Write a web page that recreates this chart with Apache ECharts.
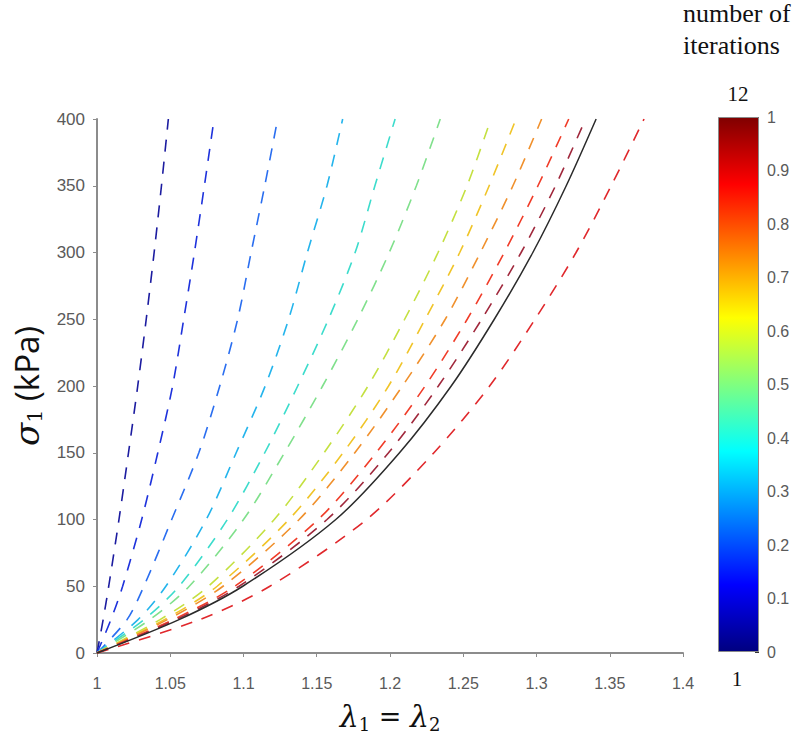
<!DOCTYPE html>
<html>
<head>
<meta charset="utf-8">
<script src="https://cdn.jsdelivr.net/npm/echarts@6/dist/echarts.min.js"></script>
<style>html,body{margin:0;padding:0;background:#fff}#c{width:800px;height:740px}</style>
</head>
<body>
<div id="c"></div>
<script>
// stress levels (kPa) at which each curve's stretch was read
const sigma = [0, 25, 50, 100, 150, 200, 250, 300, 350, 400];
// stretch lambda for each iteration curve at the stress levels above
const it1  = [1, 1.0042, 1.0080, 1.0150, 1.0215, 1.0278, 1.0336, 1.0390, 1.0440, 1.0487];
const it2  = [1, 1.0095, 1.0175, 1.0305, 1.0415, 1.0516, 1.0592, 1.0665, 1.0733, 1.0799];
const it3  = [1, 1.0205, 1.0320, 1.0510, 1.0695, 1.0838, 1.0960, 1.1052, 1.1145, 1.1233];
const it4  = [1, 1.0280, 1.0470, 1.0746, 1.0950, 1.1148, 1.1308, 1.1436, 1.1570, 1.1677];
const it5  = [1, 1.0320, 1.0560, 1.0890, 1.1145, 1.1370, 1.1580, 1.1762, 1.1897, 1.2035];
const it6  = [1, 1.0360, 1.0630, 1.1000, 1.1280, 1.1540, 1.1780, 1.1995, 1.2180, 1.2343];
const it7  = [1, 1.0430, 1.0760, 1.1210, 1.1550, 1.1850, 1.2100, 1.2328, 1.2526, 1.2689];
const it8  = [1, 1.0460, 1.0820, 1.1310, 1.1680, 1.1990, 1.2240, 1.2476, 1.2677, 1.2860];
const it9  = [1, 1.0480, 1.0860, 1.1380, 1.1760, 1.2085, 1.2377, 1.2617, 1.2839, 1.3035];
const it10 = [1, 1.0520, 1.0940, 1.1510, 1.1905, 1.2240, 1.2527, 1.2780, 1.3010, 1.3220];
const it11 = [1, 1.0700, 1.1180, 1.1840, 1.2300, 1.2680, 1.2990, 1.3270, 1.3510, 1.3734];
const it12 = [1, 1.0540, 1.0970, 1.1570, 1.1990, 1.2330, 1.2626, 1.2895, 1.3130, 1.3335];
const target = [1, 1.0560, 1.0995, 1.1630, 1.2065, 1.2418, 1.2712, 1.2975, 1.3203, 1.3407];
const iterCurves = [it1, it2, it3, it4, it5, it6, it7, it8, it9, it10, it11, it12];
// axis ticks
const xTicks = [1, 1.05, 1.1, 1.15, 1.2, 1.25, 1.3, 1.35, 1.4];
const yTicks = [0, 50, 100, 150, 200, 250, 300, 350, 400];
const cbTicks = [0, 0.1, 0.2, 0.3, 0.4, 0.5, 0.6, 0.7, 0.8, 0.9, 1];

const iterColors = ['#1c1ca0','#1e32dc','#2a6ef0','#24b4ec','#3cdccc','#80e08c',
                    '#c4e040','#f0c428','#f0902c','#f03c28','#e0282c','#a0283c'];

const jetStops = [
  {offset:0, color:'#800000'},{offset:0.125, color:'#ff0000'},
  {offset:0.375, color:'#ffff00'},{offset:0.625, color:'#00ffff'},
  {offset:0.875, color:'#0000ff'},{offset:1, color:'#000080'}];

const chart = echarts.init(document.getElementById('c'), null, {renderer:'svg'});
const series = iterCurves.map((lam, k) => ({
  type:'line', xAxisIndex:0, yAxisIndex:0, showSymbol:false, smooth:0.3,
  data: sigma.map((s, i) => [lam[i], s]),
  lineStyle:{color: iterColors[k], width:1.6, type:[12, 10]}, silent:true, z:2
}));
series.push({
  type:'line', xAxisIndex:0, yAxisIndex:0, showSymbol:false, smooth:0.3,
  data: sigma.map((s, i) => [target[i], s]),
  lineStyle:{color:'#2b2b2b', width:1.5, type:'solid'}, silent:true, z:3
});
series.push({
  type:'bar', xAxisIndex:1, yAxisIndex:1, data:[1], barWidth:'100%', silent:true,
  itemStyle:{color: new echarts.graphic.LinearGradient(0,0,0,1, jetStops), borderColor:'#8a8a8a', borderWidth:1}
});

const labelStyle = {color:'#5a5a5a', fontSize:16, fontFamily:'Liberation Sans, Arial, sans-serif'};
const serifFont = '"Liberation Serif", "Times New Roman", serif';
chart.setOption({
  animation:false,
  grid:[
    {left:97, right:117, top:119, bottom:87},
    {left:718, width:41, top:117, bottom:88}
  ],
  xAxis:[
    {type:'value', gridIndex:0, min:1, max:1.4, interval:0.05,
     axisLine:{lineStyle:{color:'#8c8c8c', width:2}},
     axisTick:{length:4, lineStyle:{color:'#8c8c8c'}},
     splitLine:{show:false},
     axisLabel:Object.assign({margin:22, formatter:v => String(+v.toFixed(2))}, labelStyle),
     name:'{l|λ}{s|1}{e| = }{l|λ}{s|2}', nameLocation:'middle', nameGap:46,
     nameTextStyle:{rich:{
       l:{fontSize:30, fontStyle:'italic', fontFamily:'DejaVu Serif, serif', color:'#111'},
       s:{fontSize:18, fontFamily:'DejaVu Serif, serif', color:'#111', padding:[16,0,0,0]},
       e:{fontSize:27, fontFamily:'DejaVu Serif, serif', color:'#111'}}}},
    {type:'category', gridIndex:1, data:[''], show:false}
  ],
  yAxis:[
    {type:'value', gridIndex:0, min:0, max:400, interval:50,
     axisLine:{show:true, lineStyle:{color:'#8c8c8c', width:2}},
     axisTick:{show:true, length:4, lineStyle:{color:'#8c8c8c'}},
     splitLine:{show:false},
     axisLabel:Object.assign({margin:12}, labelStyle, {fontSize:17}),
     name:'{l|σ}{s|1}{t| (kPa)}', nameLocation:'middle', nameGap:47, nameRotate:90,
     nameTextStyle:{rich:{
       l:{fontSize:34, fontStyle:'italic', fontFamily:'DejaVu Serif, serif', color:'#111'},
       s:{fontSize:21, fontFamily:'DejaVu Serif, serif', color:'#111', padding:[17,0,0,0]},
       t:{fontSize:33, fontFamily:'Open Sans, sans-serif', color:'#111'}}}},
    {type:'value', gridIndex:1, min:0, max:1, interval:0.1, position:'right',
     axisLine:{show:false},
     axisTick:{show:true, inside:true, length:4, lineStyle:{color:'#333'}},
     splitLine:{show:false},
     axisLabel:Object.assign({margin:8, formatter:v => String(+v.toFixed(1))}, labelStyle, {fontSize:16})}
  ],
  graphic:[
    {type:'text', x:683, y:-3, style:{text:'number of\niterations', textAlign:'left',
      font:'26px ' + serifFont, fill:'#111', lineHeight:32}},
    {type:'text', x:738, y:83, style:{text:'12', textAlign:'center',
      font:'21px ' + serifFont, fill:'#111'}},
    {type:'text', x:737, y:668, style:{text:'1', textAlign:'center',
      font:'21px ' + serifFont, fill:'#111'}}
  ],
  series: series
});
</script>
</body>
</html>
